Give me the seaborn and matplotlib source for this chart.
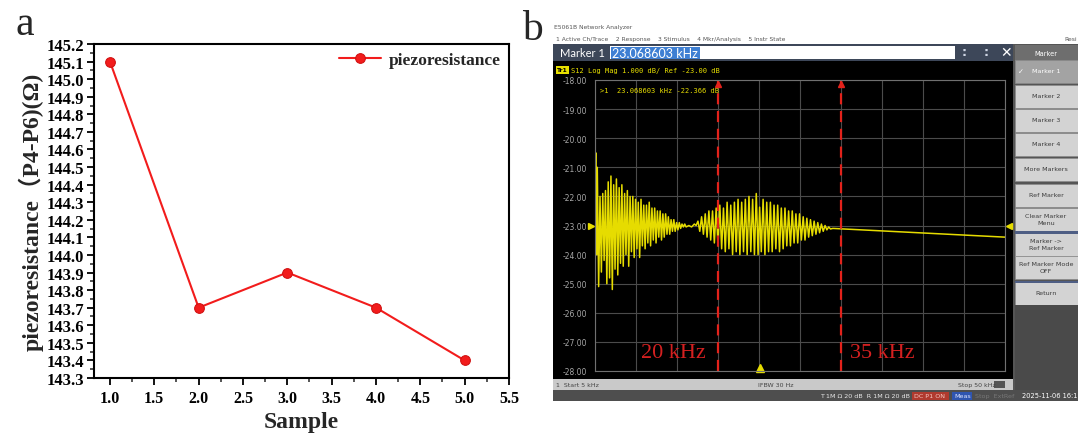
import numpy as np
import pandas as pd
import matplotlib
matplotlib.use("Agg")
import matplotlib.pyplot as plt
import seaborn as sns
from matplotlib.patches import Rectangle
from matplotlib.ticker import MultipleLocator, FormatStrFormatter

# ---------- panel a data
sample = [1.0, 2.0, 3.0, 4.0, 5.0]
resistance = [145.1, 143.7, 143.9, 143.7, 143.4]

# ---------- panel b: trace (kHz, dB)
trace_khz = [5.00, 5.08, 5.17, 5.25, 5.40, 5.55, 5.70, 5.85, 6.00, 6.15,
             6.30, 6.45, 6.60, 6.75, 6.90, 7.05, 7.20, 7.35, 7.50, 7.65,
             7.80, 7.95, 8.10, 8.25, 8.40, 8.55, 8.70, 8.85, 9.00, 9.15,
             9.30, 9.45, 9.60, 9.75, 9.90, 10.05, 10.20, 10.35, 10.50, 10.65,
             10.80, 10.95, 11.10, 11.25, 11.40, 11.55, 11.70, 11.85, 12.00, 12.15,
             12.30, 12.45, 12.60, 12.75, 12.90, 13.05, 13.20, 13.35, 13.50, 13.65,
             13.80, 13.95, 14.10, 14.25, 14.40, 14.55, 14.70, 14.85, 15.00, 15.30,
             15.60, 15.90, 16.10, 16.30, 16.50, 16.70, 16.90, 17.10, 17.30, 17.50,
             17.70, 17.90, 18.10, 18.30, 18.50, 18.70, 18.90, 19.10, 19.30, 19.50,
             19.70, 19.90, 20.10, 20.30, 20.50, 20.70, 20.90, 21.10, 21.30, 21.50,
             21.70, 21.90, 22.10, 22.30, 22.50, 22.70, 22.90, 23.07, 23.25, 23.45,
             23.65, 23.85, 24.05, 24.25, 24.45, 24.65, 24.85, 25.05, 25.25, 25.45,
             25.65, 25.85, 26.05, 26.25, 26.45, 26.65, 26.85, 27.05, 27.25, 27.45,
             27.65, 27.85, 28.05, 28.25, 28.45, 28.65, 28.85, 29.05, 29.25, 29.45,
             29.65, 29.85, 30.05, 30.25, 30.45, 30.65, 30.85, 31.10, 50.00]
trace_db = [-22.2, -20.5, -24.0, -21.0, -25.1, -22.0, -24.6, -21.9, -24.2, -21.8,
            -25.0, -21.5, -24.8, -21.3, -25.2, -21.6, -24.5, -21.4, -24.7, -21.7,
            -24.3, -21.6, -24.4, -21.9, -24.0, -21.8, -24.4, -22.0, -23.9, -22.0,
            -24.1, -22.1, -23.8, -22.2, -24.1, -22.1, -23.7, -22.3, -23.8, -22.3,
            -23.6, -22.2, -23.7, -22.4, -23.5, -22.4, -23.6, -22.5, -23.4, -22.5,
            -23.5, -22.6, -23.4, -22.6, -23.3, -22.7, -23.3, -22.8, -23.2, -22.8,
            -23.2, -22.9, -23.15, -22.9, -23.1, -22.95, -23.05, -22.95, -23.05, -23.0,
            -23.05, -22.95, -23.0, -22.85, -23.2, -22.7, -23.3, -22.6, -23.4, -22.5,
            -23.5, -22.5, -23.6, -22.4, -23.7, -22.3, -23.8, -22.4, -23.9, -22.2,
            -23.8, -22.3, -24.0, -22.2, -23.9, -22.1, -24.0, -22.2, -23.9, -22.1,
            -24.0, -22.0, -23.9, -22.1, -24.0, -21.9, -24.0, -22.37, -23.9, -22.1,
            -24.0, -22.2, -23.9, -22.2, -23.9, -22.3, -23.8, -22.3, -23.9, -22.4,
            -23.8, -22.4, -23.7, -22.5, -23.7, -22.5, -23.6, -22.6, -23.6, -22.6,
            -23.5, -22.7, -23.5, -22.75, -23.4, -22.8, -23.35, -22.85, -23.3, -22.9,
            -23.25, -22.95, -23.2, -23.0, -23.15, -23.05, -23.12, -23.1, -23.4]

marker_khz = 23.068603
marker_db = -22.366
cut_khz = [18.5, 32.0]
cut_labels = ["20 kHz", "35 kHz"]
cut_label_khz = [10.0, 33.0]
db_ticks = [-28, -27, -26, -25, -24, -23, -22, -21, -20, -19, -18]

softkeys = ["Marker 1", "Marker 2", "Marker 3", "Marker 4", "More Markers",
            "Ref Marker", "Clear Marker\nMenu", "Marker ->\nRef Marker",
            "Ref Marker Mode\nOFF", "Return"]
softkey_y = [72, 97, 121, 145, 170, 196, 220, 245, 268, 294]

W, H = 1078, 435


def px(x0, y0, x1, y1):
    return [x0 / W, 1 - y1 / H, (x1 - x0) / W, (y1 - y0) / H]


sns.set_style("ticks")
plt.rcParams["font.family"] = ["Liberation Serif", "DejaVu Sans"]

fig = plt.figure(figsize=(10.78, 4.35), dpi=100)

# ================= panel a
ax = fig.add_axes(px(94, 45, 509, 379))
df_a = pd.DataFrame({"Sample": sample, "R": resistance})
sns.lineplot(data=df_a, x="Sample", y="R", marker="o", color="#f21c1c", lw=1.5,
             markersize=7, markeredgecolor="#d01010", label="piezoresistance", ax=ax)
ax.set_xlim(0.82, 5.5)
ax.set_ylim(143.3, 145.2)
ax.xaxis.set_major_locator(MultipleLocator(0.5))
ax.xaxis.set_minor_locator(MultipleLocator(0.25))
ax.yaxis.set_major_locator(MultipleLocator(0.1))
ax.yaxis.set_minor_locator(MultipleLocator(0.05))
ax.xaxis.set_major_formatter(FormatStrFormatter("%.1f"))
ax.yaxis.set_major_formatter(FormatStrFormatter("%.1f"))
ax.tick_params(which="major", direction="out", length=5, width=1.3, colors="black")
ax.tick_params(which="minor", direction="out", length=3, width=1.1)
ax.tick_params(axis="y", labelsize=12, pad=2)
ax.tick_params(axis="x", labelsize=11.5, pad=4)
for lab in ax.get_xticklabels() + ax.get_yticklabels():
    lab.set_fontweight("bold")
for sp in ax.spines.values():
    sp.set_linewidth(1.5)
    sp.set_color("black")
ax.set_xlabel("Sample", fontsize=17, fontweight="bold", labelpad=3)
ax.set_ylabel("piezoresistance（P4-P6)(Ω)", fontsize=17, fontweight="bold",
              family=["Liberation Serif", "Noto Sans CJK SC"], labelpad=2)
ax.legend(loc="upper right", frameon=False, handlelength=2.4, handletextpad=0.5,
          borderaxespad=0.05, prop=dict(family="Liberation Serif", weight="bold", size=12.5))

fig.text(25 / W, 1 - 35 / H, "a", fontsize=30, ha="center", va="baseline")
fig.text(532 / W, 1 - 40 / H, "b", fontsize=30, ha="center", va="baseline")

# ================= panel b: screen furniture drawn in pixel units
bg = fig.add_axes(px(553, 22, 1078, 402), zorder=-1)
bg.set_xlim(553, 1078)
bg.set_ylim(402, 22)
bg.axis("off")


def box(x0, y0, x1, y1, color, **kw):
    bg.add_patch(Rectangle((x0, y0), x1 - x0, y1 - y0, facecolor=color,
                           edgecolor=kw.get("ec", "none"), lw=kw.get("lw", 0)))


def txt(x, y, s, **kw):
    kw.setdefault("family", "DejaVu Sans")
    kw.setdefault("va", "center")
    bg.text(x, y, s, **kw)


txt(554, 28, "E5061B Network Analyzer", size=4.3, color="#555555")
txt(556, 40, "1 Active Ch/Trace    2 Response    3 Stimulus    4 Mkr/Analysis    5 Instr State",
    size=4.3, color="#555555")
txt(1064, 40, "Resi", size=4.3, color="#555555")

# marker entry bar
box(553, 45, 1013, 62, "#3d4759")
txt(560, 54, "Marker 1", size=8, color="white", family="Lato")
box(610, 47, 955, 60, "white")
box(611, 48, 700, 59.5, "#3e7fd3")
txt(612, 53.8, "23.068603 kHz", size=9, color="white", family="Lato")
txt(962, 53, ":", size=9, color="#cfd6e4", weight="bold")
txt(984, 53, ":", size=9, color="#cfd6e4", weight="bold")
txt(1006, 53.5, "✕", size=10, color="white", ha="center")

# black screen
box(553, 62, 1013, 380, "black")
box(556, 67, 569, 75, "#e8e000")
txt(557, 71, "Tr1", size=4.3, color="black", weight="bold")
txt(571, 71, "S12 Log Mag 1.000 dB/ Ref -23.00 dB", size=5.0, color="#e8e000",
    family="DejaVu Sans Mono")

# bottom bars
box(553, 380, 1013, 391, "#c9c9c9")
txt(556, 385.5, "1  Start 5 kHz", size=4.5, color="#444444")
txt(758, 385.5, "IFBW 30 Hz", size=4.5, color="#444444")
txt(958, 385.5, "Stop 50 kHz", size=4.5, color="#444444")
box(994, 382, 1005, 389, "#555555")
box(553, 391, 1078, 402, "#4e4e4e")
txt(820, 396.5, "T 1M Ω 20 dB  R 1M Ω 20 dB", size=4.6, color="#e6e6e6")
box(912, 392.5, 949, 400.5, "#b03a2e")
txt(914, 396.5, "DC P1 ON", size=4.6, color="#f4c6c0")
box(952, 392.5, 972, 400.5, "#2f55b0")
txt(954, 396.5, "Meas", size=4.6, color="#dfe6ff")
txt(975, 396.5, "Stop  ExtRef", size=4.6, color="#777777")
txt(1022, 396.5, "2025-11-06 16:1", size=4.8, color="white")

# softkey column
box(1013, 45, 1078, 391, "#555555")
box(1015, 46, 1078, 62, "#6e6e6e")
txt(1046, 54, "Marker", size=4.8, color="white", ha="center")
for name, yc in zip(softkeys, softkey_y):
    col = "#a3a3a3" if name == "Marker 1" else "#d3d3d3"
    box(1015, yc - 11.5, 1078, yc + 11.5, col, ec="#8a8a8a", lw=0.5)
    txt(1046, yc, name, size=4.6, color="white" if name == "Marker 1" else "#3c3c3c",
        ha="center", linespacing=1.4)
txt(1018, 72, "✓", size=5, color="white")
box(1015, 232, 1078, 234.5, "#4e5e84")
box(1015, 281.5, 1078, 284, "#4e5e84")
box(1015, 306, 1078, 391, "#4a4a4a")

# ================= panel b: trace axes
gx = fig.add_axes(px(595, 81, 1005, 372))
gx.set_facecolor("black")
sns.lineplot(x=trace_khz, y=trace_db, color="#e6dc00", lw=1.1, sort=False,
             estimator=None, ax=gx)
gx.set_xlim(5, 50)
gx.set_ylim(-28, -18)
gx.set_xticks(np.linspace(5, 50, 11))
gx.set_xticklabels([])
gx.set_yticks(db_ticks)
gx.set_yticklabels([f"{v:.2f}" for v in db_ticks], color="#a8a8a8", size=5.5,
                   family="DejaVu Sans")
gx.tick_params(length=0, pad=6)
gx.grid(True, color="#4b4b4b", lw=0.8)
for sp in gx.spines.values():
    sp.set_color("#707070")
    sp.set_linewidth(0.8)

for k in cut_khz:
    gx.axvline(k, color="#e3221b", lw=1.6, ls=(0, (5, 3)))
    gx.plot(k, -18.15, marker="^", color="#e3221b", ms=4, clip_on=False)
for k, s in zip(cut_label_khz, cut_labels):
    gx.text(k, -27.38, s, color="#d42020", family="Liberation Serif", size=16,
            va="center")

gx.plot(4.55, -23, marker=">", color="#e6dc00", ms=5, clip_on=False)
gx.plot(50.45, -23, marker="<", color="#e6dc00", ms=5, clip_on=False)
gx.plot(marker_khz, -27.88, marker="^", color="#e6dc00", ms=6, clip_on=False)
gx.text(5.5, -18.35, f">1  {marker_khz:.6f} kHz {marker_db:.3f} dB", color="#e6dc00",
        size=5.0, family="DejaVu Sans Mono", va="center")

fig.savefig("out.png", dpi=100)
